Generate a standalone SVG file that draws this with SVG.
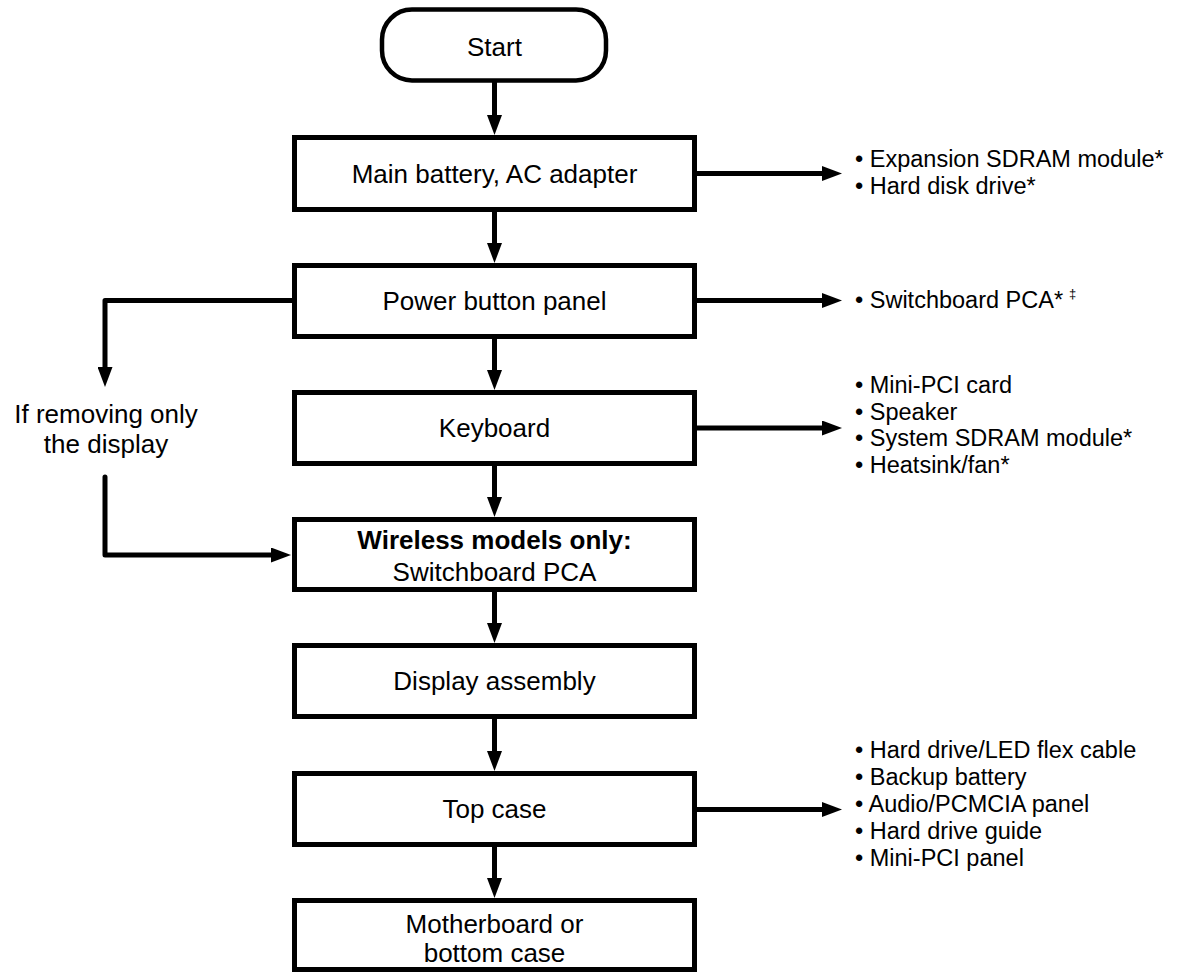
<svg xmlns="http://www.w3.org/2000/svg" width="1185" height="972" viewBox="0 0 1185 972">
<style>
.box{fill:#fff;stroke:#000;stroke-width:5}
.t{font-family:"Liberation Sans",Arial,sans-serif;font-size:26px;fill:#000;text-anchor:middle}
.s{font-family:"Liberation Sans",Arial,sans-serif;font-size:23.5px;fill:#000}
.c{fill:none;stroke:#000;stroke-width:5;stroke-linejoin:round}
</style>
<defs>
<marker id="ah" markerUnits="userSpaceOnUse" viewBox="0 0 20 15" markerWidth="20" markerHeight="15" refX="5" refY="7.5" orient="auto">
<path d="M0,0 L20,7.5 L0,15 Z" fill="#000"/>
</marker>
</defs>
<rect width="1185" height="972" fill="#fff"/>
<g id="connectors">
<path class="c" d="M494.5,82 V120" marker-end="url(#ah)"/>
<path class="c" d="M494.5,211 V248" marker-end="url(#ah)"/>
<path class="c" d="M494.5,338 V375" marker-end="url(#ah)"/>
<path class="c" d="M494.5,466 V502" marker-end="url(#ah)"/>
<path class="c" d="M494.5,592 V628" marker-end="url(#ah)"/>
<path class="c" d="M494.5,719 V756" marker-end="url(#ah)"/>
<path class="c" d="M494.5,847 V883" marker-end="url(#ah)"/>
<path class="c" d="M697,173.5 H827" marker-end="url(#ah)"/>
<path class="c" d="M697,300.5 H827" marker-end="url(#ah)"/>
<path class="c" d="M697,428 H827" marker-end="url(#ah)"/>
<path class="c" d="M697,809.5 H827" marker-end="url(#ah)"/>
<path class="c" d="M292,300.5 H105 V372" marker-end="url(#ah)"/>
<path class="c" d="M105,477 V555 H276" stroke-linecap="round" marker-end="url(#ah)"/>
</g>
<g id="start">
<rect class="box" x="382" y="9.5" width="224" height="71" rx="30" ry="30" style="stroke-width:4.5"/>
<text class="t" x="494.5" y="56">Start</text>
</g>
<g id="main-battery">
<rect class="box" x="294.5" y="137.5" width="400" height="72"/>
<text class="t" x="494.5" y="183">Main battery, AC adapter</text>
</g>
<g id="power-button">
<rect class="box" x="294.5" y="265.5" width="400" height="71"/>
<text class="t" x="494.5" y="310">Power button panel</text>
</g>
<g id="keyboard">
<rect class="box" x="294.5" y="392.5" width="400" height="71"/>
<text class="t" x="494.5" y="437">Keyboard</text>
</g>
<g id="wireless">
<rect class="box" x="294.5" y="519.5" width="400" height="70"/>
<text class="t" x="494.5" y="549" font-weight="bold">Wireless models only:</text>
<text class="t" x="494.5" y="581">Switchboard PCA</text>
</g>
<g id="display-assembly">
<rect class="box" x="294.5" y="645.5" width="400" height="71"/>
<text class="t" x="494.5" y="690">Display assembly</text>
</g>
<g id="top-case">
<rect class="box" x="294.5" y="773.5" width="400" height="71"/>
<text class="t" x="494.5" y="818">Top case</text>
</g>
<g id="motherboard">
<rect class="box" x="294.5" y="900.5" width="400" height="69"/>
<text class="t" x="494.5" y="933">Motherboard or</text>
<text class="t" x="494.5" y="962">bottom case</text>
</g>
<g id="display-only-label">
<text class="t" x="106" y="423">If removing only</text>
<text class="t" x="106" y="453">the display</text>
</g>
<g id="list-battery">
<text class="s" x="855" y="167">• Expansion SDRAM module*</text>
<text class="s" x="855" y="194">• Hard disk drive*</text>
</g>
<g id="list-power">
<text class="s" x="855" y="308">• Switchboard PCA*<tspan font-size="13" dx="6" dy="-10">‡</tspan></text>
</g>
<g id="list-keyboard">
<text class="s" x="855" y="393">• Mini-PCI card</text>
<text class="s" x="855" y="419.5">• Speaker</text>
<text class="s" x="855" y="446">• System SDRAM module*</text>
<text class="s" x="855" y="472.5">• Heatsink/fan*</text>
</g>
<g id="list-topcase">
<text class="s" x="855" y="758">• Hard drive/LED flex cable</text>
<text class="s" x="855" y="785">• Backup battery</text>
<text class="s" x="855" y="812">• Audio/PCMCIA panel</text>
<text class="s" x="855" y="839">• Hard drive guide</text>
<text class="s" x="855" y="866">• Mini-PCI panel</text>
</g>
</svg>
